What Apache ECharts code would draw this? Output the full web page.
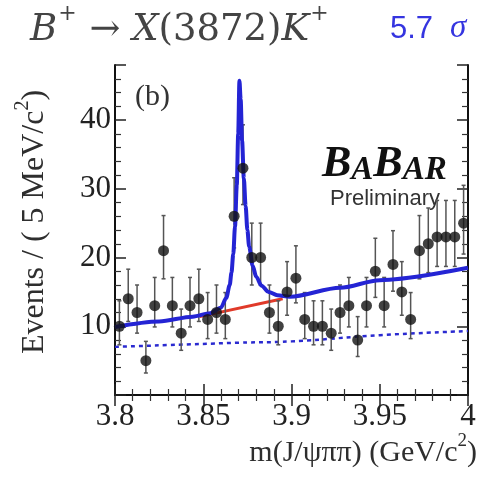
<!DOCTYPE html>
<html><head><meta charset="utf-8">
<script src="https://cdn.jsdelivr.net/npm/echarts@6/dist/echarts.min.js"></script>
<style>html,body{margin:0;padding:0;background:#fff}#c{width:485px;height:477px}</style>
</head><body><div id="c"></div>
<script>
// ---- data ----
const binCenters = [3.8025,3.8075,3.8125,3.8175,3.8225,3.8275,3.8325,3.8375,3.8425,3.8475,
  3.8525,3.8575,3.8625,3.8675,3.8725,3.8775,3.8825,3.8875,3.8925,3.8975,
  3.9025,3.9075,3.9125,3.9175,3.9225,3.9275,3.9325,3.9375,3.9425,3.9475,
  3.9525,3.9575,3.9625,3.9675,3.9725,3.9775,3.9825,3.9875,3.9925,3.9975];
const counts = [10,14,12,5,13,21,13,9,13,14,11,12,11,26,33,20,20,12,10,15,
  17,11,10,10,9,12,13,8,13,18,13,19,15,11,21,22,23,23,23,25];
const errLow = [7.3,10.7,9.0,3.2,9.9,16.9,9.9,6.5,9.9,10.7,8.2,9.0,8.2,21.4,27.7,16.0,16.0,9.0,7.3,11.6,
  13.4,8.2,7.3,7.3,6.5,9.0,9.9,5.6,9.9,14.2,9.9,15.1,11.6,8.2,16.9,17.8,18.7,18.7,18.7,20.5];
const errHigh = [13.7,18.3,16.0,7.8,17.1,26.1,17.1,12.5,17.1,18.3,14.9,16.0,14.9,31.6,39.3,25.0,25.0,16.0,13.7,19.4,
  21.7,14.9,13.7,13.7,12.5,16.0,17.1,11.4,17.1,22.8,17.1,23.9,19.4,14.9,26.1,27.2,28.3,28.3,28.3,30.5];
// total fit curve (blue solid)
const fitMass = [3.800,3.825,3.844,3.854,3.860,3.863,3.865,3.866,3.867,3.868,3.869,3.8698,3.8705,3.8712,3.872,3.873,3.874,3.875,3.876,3.878,3.880,3.883,3.887,3.892,3.899,3.9275,3.950,4.000];
const fitVal  = [9.9,10.7,11.4,11.9,12.7,14.1,16.0,17.8,20.5,24.5,30.5,38.0,45.7,43.0,37.0,31.5,27.5,24.0,21.6,18.8,17.2,15.9,15.0,14.5,14.3,15.6,16.7,18.5];
// red background segment
const redMass = [3.848,3.895];
const redVal  = [11.4,14.0];
// dashed blue component
const dashMass = [3.800,3.870,3.900,3.950,4.000];
const dashVal  = [7.0,7.6,7.8,8.7,9.3];
const xTicks = {min:3.8, max:4.0, step:0.05};
const yTicks = {min:0, max:48, step:10};

const pts = binCenters.map((m,i)=>[m,counts[i]]);
const errs = binCenters.map((m,i)=>[m,errLow[i],errHigh[i]]);
const zip = (a,b)=>a.map((v,i)=>[v,b[i]]);

const serif = 'Liberation Serif';
const tSerif = 'DejaVu Serif';
const chart = echarts.init(document.getElementById('c'));
const axisCommon = {
  axisLine:{show:true,lineStyle:{color:'#111',width:2}},
  axisTick:{show:true,inside:true,length:11,lineStyle:{color:'#222',width:1.5}},
  minorTick:{show:true,splitNumber:5,length:6,lineStyle:{color:'#333',width:1.2}},
  splitLine:{show:false}
};
const txt = '#2e2e2e';
chart.setOption({
  animation:false,
  backgroundColor:'#fff',
  grid:{left:115,right:17,top:65,bottom:82},
  xAxis:[
    Object.assign({type:'value',min:xTicks.min,max:xTicks.max,interval:xTicks.step,position:'bottom',
      axisLabel:{fontFamily:serif,fontSize:31,color:'#222',margin:6,
        formatter:v=>(Math.round(v*100)/100).toString()}},axisCommon),
    Object.assign({type:'value',min:xTicks.min,max:xTicks.max,interval:xTicks.step,position:'top',
      axisLabel:{show:false}},axisCommon)
  ],
  yAxis:[
    Object.assign({type:'value',min:yTicks.min,max:yTicks.max,interval:yTicks.step,position:'left',
      axisLabel:{fontFamily:serif,fontSize:31,color:'#222',margin:4,showMaxLabel:false,
        formatter:v=>(v===0?'':String(v))}},axisCommon),
    Object.assign({type:'value',min:yTicks.min,max:yTicks.max,interval:yTicks.step,position:'right',
      axisLabel:{show:false}},axisCommon)
  ],
  series:[
    {type:'line',data:zip(dashMass,dashVal),showSymbol:false,smooth:true,
      lineStyle:{color:'#2a2ad0',width:2.5,type:[4,4]},z:2},
    {type:'line',data:zip(redMass,redVal),showSymbol:false,
      lineStyle:{color:'#e03a2a',width:3},z:3},
    {type:'custom',data:errs,z:4,
      renderItem:(params,api)=>{
        const x=api.value(0);
        const lo=api.coord([x,api.value(1)]);
        const hi=api.coord([x,api.value(2)]);
        const c=2;
        return {type:'group',children:[
          {type:'line',shape:{x1:lo[0],y1:lo[1],x2:hi[0],y2:hi[1]},style:{stroke:'#555',lineWidth:1.5}},
          {type:'line',shape:{x1:lo[0]-c,y1:lo[1],x2:lo[0]+c,y2:lo[1]},style:{stroke:'#555',lineWidth:1.5}},
          {type:'line',shape:{x1:hi[0]-c,y1:hi[1],x2:hi[0]+c,y2:hi[1]},style:{stroke:'#555',lineWidth:1.5}}
        ]};
      }},
    {type:'line',data:zip(fitMass,fitVal),showSymbol:false,smooth:0.3,smoothMonotone:'x',
      lineStyle:{color:'#2424d4',width:4},z:5},
    {type:'scatter',data:pts,symbol:'circle',symbolSize:11,itemStyle:{color:'#111'},z:6}
  ],
  graphic:[
    {type:'text',left:30,top:3,style:{
      text:'{i|B}{s|+}{n| → }{i|X}{n|(3872)}{i|K}{s|+}',
      rich:{
        i:{fontFamily:tSerif,fontStyle:'italic',fontSize:37,fill:'#444',lineHeight:46,verticalAlign:'bottom'},
        n:{fontFamily:tSerif,fontSize:37,fill:'#444',lineHeight:46,verticalAlign:'bottom'},
        s:{fontFamily:tSerif,fontSize:22,fill:'#444',lineHeight:46,verticalAlign:'top',padding:[0,1,0,1]}
      }}},
    {type:'text',left:390,top:12,style:{
      text:'{a|5.7 }{b| σ}',
      rich:{a:{fontFamily:'Liberation Sans',fontSize:31,fill:'#3535e0',verticalAlign:'bottom',lineHeight:34},
            b:{fontFamily:serif,fontStyle:'italic',fontSize:33,fill:'#3535e0',verticalAlign:'bottom',lineHeight:34}}}},
    {type:'text',left:135,top:82,style:{text:'(b)',fontFamily:serif,fontSize:30,fill:'#333'}},
    {type:'text',left:322,top:143,style:{
      text:'{a|B}{b|A}{a|B}{b|AR}',
      rich:{a:{fontFamily:serif,fontStyle:'italic',fontWeight:'bold',fontSize:44,fill:'#111',verticalAlign:'bottom',lineHeight:44},
            b:{fontFamily:serif,fontStyle:'italic',fontWeight:'bold',fontSize:33,fill:'#111',verticalAlign:'bottom',lineHeight:44}}}},
    {type:'text',left:330,top:188,style:{text:'Preliminary',fontFamily:'Liberation Sans',fontSize:22,fill:'#333'}},
    {type:'text',right:8,top:432,style:{
      text:'{n|m(J/ψππ) (GeV/c}{s|2}{n|)}',
      rich:{n:{fontFamily:serif,fontSize:30,fill:txt,lineHeight:36,verticalAlign:'bottom'},
            s:{fontFamily:serif,fontSize:19,fill:txt,lineHeight:36,verticalAlign:'top'}}}},
    {type:'text',x:32,y:222,rotation:Math.PI/2,style:{
      text:'{n|Events / ( 5 MeV/c}{s|2}{n|)}',align:'center',verticalAlign:'middle',
      rich:{n:{fontFamily:serif,fontSize:32,fill:txt,lineHeight:38,verticalAlign:'bottom'},
            s:{fontFamily:serif,fontSize:20,fill:txt,lineHeight:38,verticalAlign:'top'}}}}
  ]
});
</script></body></html>
